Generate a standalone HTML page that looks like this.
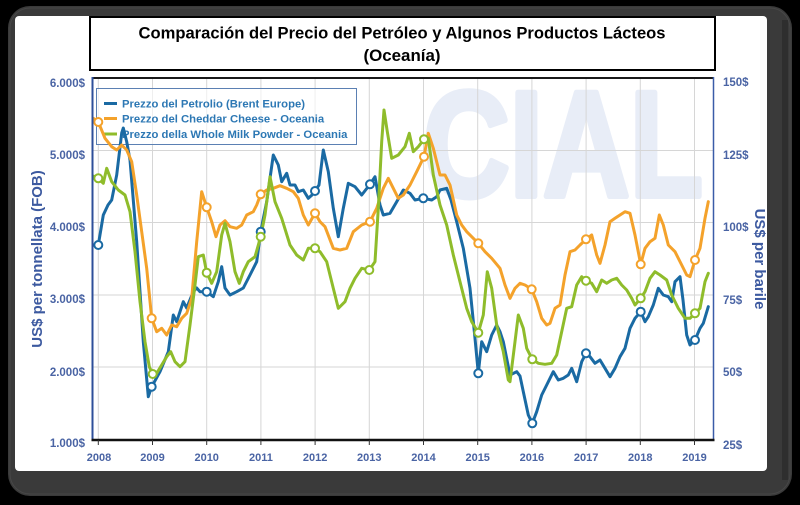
<!DOCTYPE html>
<html>
<head>
<meta charset="utf-8">
<style>
html,body{margin:0;padding:0;background:#000;}
svg{display:block;}
text{font-family:"Liberation Sans",Arial,sans-serif;}
</style>
</head>
<body>
<svg width="800" height="505" viewBox="0 0 800 505" xmlns="http://www.w3.org/2000/svg">
  <rect x="0" y="0" width="800" height="505" fill="#000"/>
  <!-- device frame -->
  <rect x="8" y="6" width="784" height="490" rx="22" ry="22" fill="#3a3a3a"/>
  <rect x="10" y="8" width="780" height="486" rx="20" ry="20" fill="none" stroke="#474747" stroke-width="1"/>
  <rect x="782" y="20" width="6" height="460" fill="#2e2e2e"/>
  <rect x="15" y="16" width="752" height="455" rx="4" ry="4" fill="#fff"/>

  <!-- watermark -->
  <text x="423" y="196" font-size="150" font-weight="bold" fill="#e8edf7" stroke="#e8edf7" stroke-width="6" stroke-linejoin="round" textLength="280" lengthAdjust="spacingAndGlyphs">CIAL</text>

  <!-- title box -->
  <rect x="90" y="17" width="625" height="53" fill="#fff" stroke="#000" stroke-width="2"/>
  <text x="402" y="38.5" font-size="17" font-weight="bold" fill="#000" text-anchor="middle" textLength="527" lengthAdjust="spacingAndGlyphs">Comparación del Precio del Petróleo y Algunos Productos Lácteos</text>
  <text x="402" y="61" font-size="17" font-weight="bold" fill="#000" text-anchor="middle" textLength="77" lengthAdjust="spacingAndGlyphs">(Oceanía)</text>

  <!-- grid -->
  <g stroke="#d6d6d6" stroke-width="1">
    <line x1="93" y1="150.5" x2="713" y2="150.5"/>
    <line x1="93" y1="222.5" x2="713" y2="222.5"/>
    <line x1="93" y1="295" x2="713" y2="295"/>
    <line x1="93" y1="367" x2="713" y2="367"/>
    <line x1="98.3" y1="78" x2="98.3" y2="440"/>
    <line x1="152.5" y1="78" x2="152.5" y2="440"/>
    <line x1="206.7" y1="78" x2="206.7" y2="440"/>
    <line x1="260.9" y1="78" x2="260.9" y2="440"/>
    <line x1="315.1" y1="78" x2="315.1" y2="440"/>
    <line x1="369.3" y1="78" x2="369.3" y2="440"/>
    <line x1="423.5" y1="78" x2="423.5" y2="440"/>
    <line x1="477.7" y1="78" x2="477.7" y2="440"/>
    <line x1="531.9" y1="78" x2="531.9" y2="440"/>
    <line x1="586.1" y1="78" x2="586.1" y2="440"/>
    <line x1="640.3" y1="78" x2="640.3" y2="440"/>
    <line x1="694.5" y1="78" x2="694.5" y2="440"/>
  </g>

  <!-- legend -->
  <rect x="96.5" y="88.5" width="260" height="56" fill="#fff" fill-opacity="0.6" stroke="#5b80b3" stroke-width="1"/>
  <line x1="104" y1="103.5" x2="117" y2="103.5" stroke="#1a6aa3" stroke-width="3"/>
  <line x1="104" y1="118.5" x2="117" y2="118.5" stroke="#f4a22b" stroke-width="3"/>
  <line x1="104" y1="134" x2="117" y2="134" stroke="#8fbc2b" stroke-width="3"/>
  <g font-size="11.3" font-weight="bold" fill="#2d78b4">
    <text x="122" y="107.5" textLength="183" lengthAdjust="spacingAndGlyphs">Prezzo del Petrolio (Brent Europe)</text>
    <text x="122" y="122.5">Prezzo del Cheddar Cheese - Oceania</text>
    <text x="122" y="138">Prezzo della Whole Milk Powder - Oceania</text>
  </g>

  <!-- series -->
  <g fill="none" stroke-width="3" stroke-linejoin="round" stroke-linecap="round">
    <polyline stroke="#1a6aa3" points="98.3,245 103.3,215 108,205 111.7,200 116.7,175 121.7,133 123.3,128 126.7,141.7 130,160 136.7,241.7 143.3,341.7 148.3,396.7 151.7,386.7 160,371.7 168.3,351.7 173.3,315 176.7,321.7 183.3,301.7 186.7,308 193.3,291.7 196.7,288 200,291.7 206.7,291.7 213.3,296.7 218.3,281.7 221.7,266.7 225,288 230,295 236.7,291.7 243.3,288 250,275 256.7,261.7 260.7,231.7 266.7,201.7 273.3,155 278.3,165 281.7,181.7 286.7,173.3 290,185 295,185 298.3,191.7 303.3,190 308.3,198.3 312,195 315,191 319,185 323.3,150 328.3,171.7 333.3,208.3 338.3,236.7 343.3,208.3 348.3,183.3 355,186.7 361.7,195 370,184.3 375,176.7 380,205 383.3,215 390,213.3 396.7,201.7 403.3,190 410,193.3 415,200 423.3,198.3 431.7,200 436.7,196.7 440,190 446.7,188.3 451,200 456.7,221.7 463.3,248.3 470,288.3 475,338.3 478.3,373.3 481.7,341.7 486.7,351.7 491.7,335 496.7,325 500,331.7 503.3,341.7 510,375 516.7,371.7 520,376 523.3,391.7 528.3,415 532.3,423.3 536.7,411.7 541.7,395 546.7,385 553.3,371.7 558.3,380 563.3,378.3 568.3,375 571.7,368.3 576.7,381.7 581.7,361.7 586,353.3 590,356.7 595,363.3 600,360 605,368.3 610,376.7 615,368.3 620,356.7 625,348.3 630,328.3 635,318.3 640.7,311.7 645,321.7 648.3,316.7 653.3,305 658.3,288.3 663.3,295 668.3,296.7 671.7,301.7 675,281.7 680,276.7 683,300 686.7,335 690,345 695,340 700,328.3 703.3,323.3 708.3,306.7"/>
    <polyline stroke="#f4a22b" points="93.3,118.3 98.3,122 105,138.3 111.7,146.7 116.7,150 121.7,145 126.7,150 131.7,161.7 136.7,195 141.7,231.7 146.7,268.3 151.7,318.3 156.7,331.7 161.7,328.3 166.7,335 171.7,325 176.7,326.7 181.7,318.3 186.7,313.3 191.7,298.3 196.7,241.7 201.7,191.7 206.7,207.3 211.7,221.7 216,236.7 220,225 225,220.7 230,226.7 236.7,228.3 241.7,225 246.7,215 253.3,211.7 256.7,205 260.7,194.3 266.7,190 273.3,188.3 280,185.7 286.7,188.3 293.3,191.7 298.3,198.3 303.3,215 308.3,225 315,213.3 320,221.7 325,226.7 333.3,248.3 340,250 346.7,248.3 353.3,231.7 361.7,225 370,221.7 376.7,208.3 383.3,188.3 388.3,178.3 393.3,188.3 398.3,198.3 403.3,195 410,185 416.7,171.7 424,156.7 428.3,133.3 433.3,148.3 440,175 445,175 450,185 456.7,215 461.7,225 466.7,231.7 478.3,243.3 485,251.7 491.7,258.3 500,268.3 505,285 510,298.3 515,288.3 520,283.3 525,285 531.7,289.3 536.7,301.7 541.7,318.3 546.7,325 550,323.3 555,308.3 560,305 565,275 570,251.7 575,250 580,245 586,239.3 591.7,235 596.7,255 600,263.3 605,245 610,221.7 615,218.3 620,215 625,211.7 630,213.3 635,235 640.7,264.3 645,248.3 650,241.7 655,238.3 659.3,215 663.3,225 668.3,245 675,251.7 681.7,265 686.7,275 690,276.7 695,260 700,248.3 705,218.3 708.3,201.7"/>
    <polyline stroke="#8fbc2b" points="93,176 98.3,178.3 103.3,183.3 106.7,168.3 111.7,181.7 118.3,190 125,195 130,211.7 135,251.7 140,301.7 145,341.7 149.3,366.7 152.7,374 156.7,373.3 161.7,365 166.7,356.7 170.7,351.7 175,361.7 180,366.7 185,361.7 190,325 195,285 198.3,256.7 203.3,255 206.7,272.7 211.7,283.3 216.7,271.7 221.7,235 225,223.3 230,241.7 235,271.7 239.3,283.3 243.3,271.7 248.3,261.7 255,256.7 260.7,236.7 265,215 270,176.7 275,201.7 281.7,218.3 290,245 296.7,255 303.3,260 308.3,248.3 315,248.3 320,251.7 326.7,261.7 333.3,288.3 338.3,308.3 345,301.7 350,288.3 355,278.3 361.7,268.3 369.3,270 375,261.7 378.3,208.3 381.7,141.7 384,110 387.3,131.7 391.7,158.3 398.3,155 405,146.7 409.3,133.3 413.3,151.7 418.3,146.7 424,139.3 428.3,138.3 433.3,175 440,205 446.7,225 453.3,255 460,281.7 466.7,308.3 471.7,321.7 478.3,332.7 483.3,315 487.3,271.7 491.7,288.3 496.7,325 503.3,351.7 508.3,380 510,381.7 515,341.7 518.3,315 523.3,328.3 526.7,348.3 532.3,359.3 538.3,363.3 545,364.3 551.7,363.3 556.7,355 561.7,331.7 566.7,308.3 571.7,306.7 576.7,285 581.7,276.7 586,280.7 591.7,283.3 596.7,291.7 601.7,280 606.7,283.3 611.7,280 616.7,278.3 621.7,285 626.7,290 631.7,298.3 635,305 640.7,298.3 645,291.7 650,278.3 655,271.7 660,275 666.7,280 671.7,295 678.3,308.3 685,318.3 690,318.3 695,313.3 700,308.3 705,281.7 708.3,273.3"/>
  </g>

  <!-- markers -->
  <g fill="#fff" stroke-width="2">
    <g stroke="#1a6aa3">
      <circle cx="98.3" cy="245" r="4"/><circle cx="151.7" cy="386.7" r="4"/><circle cx="206.7" cy="291.7" r="4"/><circle cx="260.7" cy="231.7" r="4"/><circle cx="315" cy="191" r="4"/><circle cx="370" cy="184.3" r="4"/><circle cx="423.3" cy="198.3" r="4"/><circle cx="478.3" cy="373.3" r="4"/><circle cx="532.3" cy="423.3" r="4"/><circle cx="586" cy="353.3" r="4"/><circle cx="640.7" cy="311.7" r="4"/><circle cx="695" cy="340" r="4"/>
    </g>
    <g stroke="#f4a22b">
      <circle cx="98.3" cy="122" r="4"/><circle cx="151.7" cy="318.3" r="4"/><circle cx="206.7" cy="207.3" r="4"/><circle cx="260.7" cy="194.3" r="4"/><circle cx="315" cy="213.3" r="4"/><circle cx="370" cy="221.7" r="4"/><circle cx="424" cy="156.7" r="4"/><circle cx="478.3" cy="243.3" r="4"/><circle cx="531.7" cy="289.3" r="4"/><circle cx="586" cy="239.3" r="4"/><circle cx="640.7" cy="264.3" r="4"/><circle cx="695" cy="260" r="4"/>
    </g>
    <g stroke="#8fbc2b">
      <circle cx="98.3" cy="178.3" r="4"/><circle cx="152.7" cy="374" r="4"/><circle cx="206.7" cy="272.7" r="4"/><circle cx="260.7" cy="236.7" r="4"/><circle cx="315" cy="248.3" r="4"/><circle cx="369.3" cy="270" r="4"/><circle cx="424" cy="139.3" r="4"/><circle cx="478.3" cy="332.7" r="4"/><circle cx="532.3" cy="359.3" r="4"/><circle cx="586" cy="280.7" r="4"/><circle cx="640.7" cy="298.3" r="4"/><circle cx="695" cy="313.3" r="4"/>
    </g>
  </g>

  <!-- axes -->
  <line x1="92" y1="78" x2="714" y2="78" stroke="#1a1a1a" stroke-width="2"/>
  <line x1="92.5" y1="77" x2="92.5" y2="440" stroke="#2e4f9a" stroke-width="2"/>
  <line x1="713.5" y1="77" x2="713.5" y2="440" stroke="#3a5ca8" stroke-width="1.5"/>
  <line x1="91.5" y1="440" x2="714.5" y2="440" stroke="#111" stroke-width="2.5"/>
  <g stroke="#333" stroke-width="1">
    <line x1="98.3" y1="440" x2="98.3" y2="445"/><line x1="152.5" y1="440" x2="152.5" y2="445"/><line x1="206.7" y1="440" x2="206.7" y2="445"/><line x1="260.9" y1="440" x2="260.9" y2="445"/><line x1="315.1" y1="440" x2="315.1" y2="445"/><line x1="369.3" y1="440" x2="369.3" y2="445"/><line x1="423.5" y1="440" x2="423.5" y2="445"/><line x1="477.7" y1="440" x2="477.7" y2="445"/><line x1="531.9" y1="440" x2="531.9" y2="445"/><line x1="586.1" y1="440" x2="586.1" y2="445"/><line x1="640.3" y1="440" x2="640.3" y2="445"/><line x1="694.5" y1="440" x2="694.5" y2="445"/>
  </g>

  <!-- left tick labels -->
  <g font-size="11.5" font-weight="bold" fill="#4a64a4" text-anchor="end">
    <text x="85" y="87">6.000$</text>
    <text x="85" y="159">5.000$</text>
    <text x="85" y="231">4.000$</text>
    <text x="85" y="303">3.000$</text>
    <text x="85" y="376">2.000$</text>
    <text x="85" y="447">1.000$</text>
  </g>
  <!-- right tick labels -->
  <g font-size="11.5" font-weight="bold" fill="#4a64a4">
    <text x="723" y="86">150$</text>
    <text x="723" y="159">125$</text>
    <text x="723" y="231">100$</text>
    <text x="723" y="304">75$</text>
    <text x="723" y="376">50$</text>
    <text x="723" y="449">25$</text>
  </g>
  <!-- year labels -->
  <g font-size="11" font-weight="bold" fill="#4a64a4" text-anchor="middle">
    <text x="99" y="461">2008</text>
    <text x="152.5" y="461">2009</text>
    <text x="206.7" y="461">2010</text>
    <text x="260.9" y="461">2011</text>
    <text x="315.1" y="461">2012</text>
    <text x="369.3" y="461">2013</text>
    <text x="423.5" y="461">2014</text>
    <text x="477.7" y="461">2015</text>
    <text x="531.9" y="461">2016</text>
    <text x="586.1" y="461">2017</text>
    <text x="640.3" y="461">2018</text>
    <text x="694.5" y="461">2019</text>
  </g>

  <!-- axis titles -->
  <text transform="translate(42,259) rotate(-90)" font-size="15" font-weight="bold" fill="#3d5aa0" text-anchor="middle">US$ per tonnellata (FOB)</text>
  <text transform="translate(755,259) rotate(90)" font-size="15" font-weight="bold" fill="#3d5aa0" text-anchor="middle">US$ per barile</text>
</svg>
</body>
</html>
